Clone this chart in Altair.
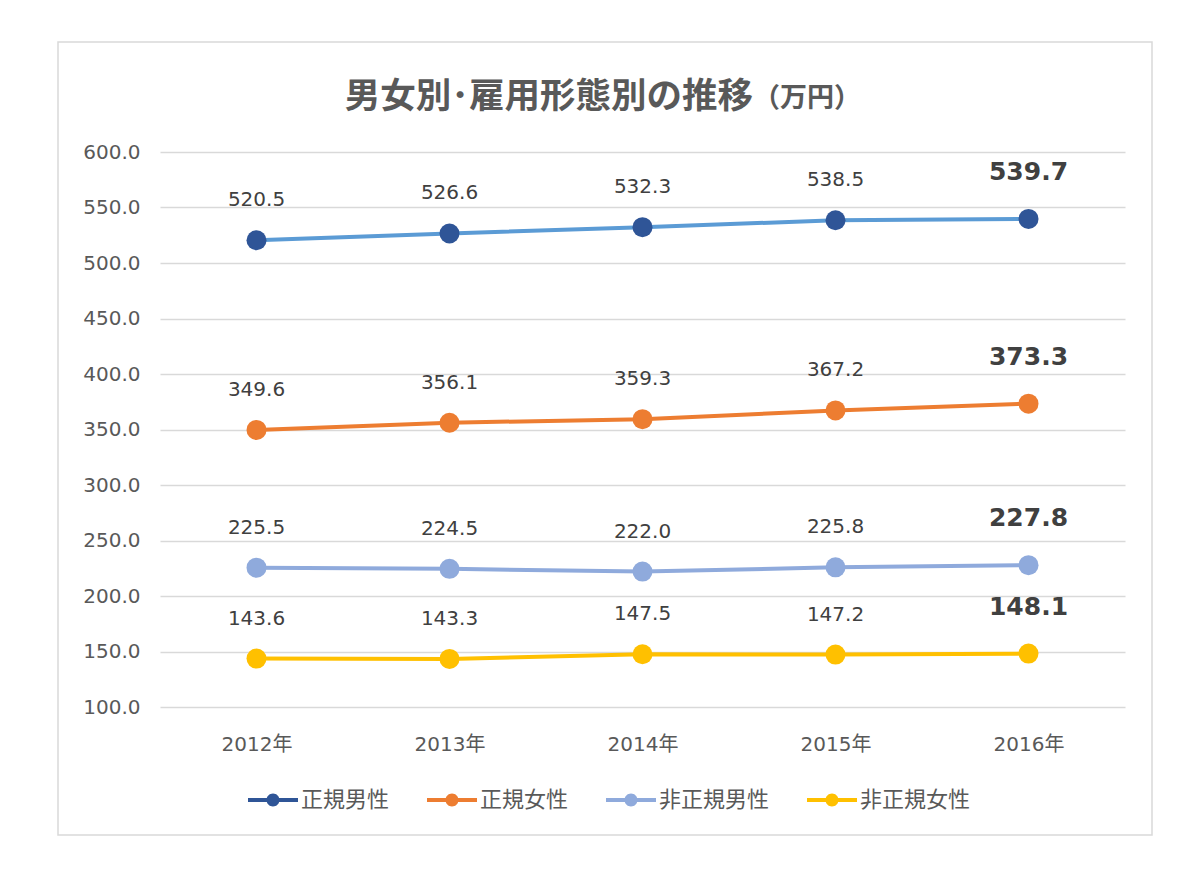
import altair as alt
import pandas as pd

# data
years = ["2012年", "2013年", "2014年", "2015年", "2016年"]
series = ["正規男性", "正規女性", "非正規男性", "非正規女性"]
seiki_dansei = [520.5, 526.6, 532.3, 538.5, 539.7]
seiki_josei = [349.6, 356.1, 359.3, 367.2, 373.3]
hiseiki_dansei = [225.5, 224.5, 222.0, 225.8, 227.8]
hiseiki_josei = [143.6, 143.3, 147.5, 147.2, 148.1]
y_ticks = [100, 150, 200, 250, 300, 350, 400, 450, 500, 550, 600]

title_main = "男女別･雇用形態別の推移"
title_unit = "（万円）"

line_colors = ["#5B9BD5", "#ED7D31", "#8FAADC", "#FFC000"]
marker_colors = ["#2F5597", "#ED7D31", "#8FAADC", "#FFC000"]

rows = []
for name, vals in zip(series, [seiki_dansei, seiki_josei, hiseiki_dansei, hiseiki_josei]):
    for y, v in zip(years, vals):
        rows.append({"year": y, "series": name, "value": v, "last": y == years[-1]})
df = pd.DataFrame(rows)

FONT = "Noto Sans CJK JP"
NUMFONT = "DejaVu Sans, Noto Sans CJK JP"
GREY = "#595959"

x_enc = alt.X("year:N", sort=years, title=None,
              scale=alt.Scale(type="point", padding=0.5),
              axis=alt.Axis(labelFontSize=20, labelColor=GREY, labelPadding=27,
                            labelFont=NUMFONT, domain=False, ticks=False,
                            labelAngle=0, grid=False))
y_enc = alt.Y("value:Q", title=None,
              scale=alt.Scale(domain=[100, 600], nice=False, zero=False),
              axis=alt.Axis(values=y_ticks, format=".1f", labelFontSize=20,
                            labelFont=NUMFONT, labelColor=GREY, labelPadding=20,
                            domain=False, ticks=False, gridColor="#D9D9D9", gridWidth=1.5))

base = alt.Chart(df)

lines = base.mark_line(strokeWidth=4).encode(
    x=x_enc, y=y_enc,
    color=alt.Color("series:N", sort=series, legend=None,
                    scale=alt.Scale(domain=series, range=line_colors)),
)

# legend symbol: a short line with a dot in the middle
legend_path = ("M-1,-0.08 L1,-0.08 L1,0.08 L-1,0.08 Z "
               "M-0.26,0 A0.26,0.26 0 1,1 0.26,0 A0.26,0.26 0 1,1 -0.26,0 Z")

points = base.mark_circle(size=400, opacity=1).encode(
    x=x_enc, y=y_enc,
    color=alt.Color("series:N", sort=series,
                    scale=alt.Scale(domain=series, range=marker_colors),
                    legend=alt.Legend(title=None, orient="none", direction="horizontal",
                                      legendX=88, legendY=623, symbolType=legend_path,
                                      symbolSize=2500, symbolStrokeWidth=0,
                                      symbolOpacity=1, labelFontSize=22,
                                      labelColor=GREY, labelOffset=3,
                                      columnPadding=37, labelFont=FONT)),
)

labels = base.transform_filter("!datum.last").mark_text(
    dy=-40, fontSize=20, color="#404040", font=NUMFONT
).encode(x=x_enc, y=y_enc, text=alt.Text("value:Q", format=".1f"))

labels_last = base.transform_filter("datum.last").mark_text(
    dy=-47, fontSize=25, fontWeight="bold", color="#404040", font=NUMFONT
).encode(x=x_enc, y=y_enc, text=alt.Text("value:Q", format=".1f"))

# frame around the whole chart and the title pieces
one = pd.DataFrame({"main": [title_main], "unit": [title_unit]})
frame = alt.Chart(one).mark_rect(fillOpacity=0, stroke="#D9D9D9", strokeWidth=1.5).encode(
    x=alt.value(-102), x2=alt.value(992), y=alt.value(-110), y2=alt.value(683)
)
t_main = alt.Chart(one).mark_text(
    align="right", baseline="middle", fontSize=35.5, fontWeight="bold", color=GREY, font=FONT
).encode(text="main:N", x=alt.value(593), y=alt.value(-55))
t_unit = alt.Chart(one).mark_text(
    align="left", baseline="middle", fontSize=27, fontWeight="bold", color=GREY, font=FONT
).encode(text="unit:N", x=alt.value(593), y=alt.value(-53))

chart = alt.layer(frame, t_main, t_unit, lines, points, labels, labels_last).resolve_scale(
    color="independent"
).properties(
    width=965, height=555,
    autosize=alt.AutoSizeParams(type="none"),
    padding={"left": 152, "top": 144, "right": 60, "bottom": 160},
    background="white",
).configure_view(stroke=None)

chart.save("out.html", embed_options={"renderer": "svg", "actions": False})
